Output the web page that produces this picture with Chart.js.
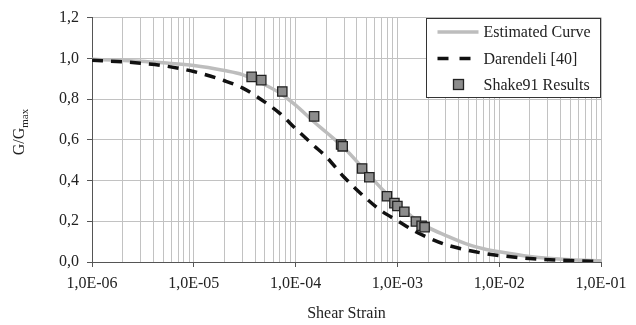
<!DOCTYPE html>
<html lang="en">
<head>
<meta charset="UTF-8"/>
<title>G/Gmax vs Shear Strain</title>
<script src="https://cdn.jsdelivr.net/npm/chart.js"></script>
<style>
  body { margin:0; background:#fff; }
  #wrap { width:636px; height:325px; }
</style>
</head>
<body>
<div id="wrap"><canvas id="chart" width="636" height="325"></canvas></div>
<script>
/* ===== data ===== */
const curveStrain = [1e-6, 2e-6, 3e-6, 5e-6, 1e-5, 2e-5, 3e-5, 5e-5, 7e-5, 1e-4, 1.5e-4, 2e-4, 3e-4,
                     5e-4, 7e-4, 1e-3, 1.5e-3, 2e-3, 3e-3, 5e-3, 7e-3, 1e-2, 2e-2, 5e-2, 1e-1];
const estimatedCurve = [0.995, 0.99, 0.986, 0.978, 0.965, 0.94, 0.92, 0.87, 0.83, 0.77, 0.69, 0.637, 0.56,
                        0.44, 0.36, 0.285, 0.21, 0.17, 0.13, 0.085, 0.065, 0.05, 0.027, 0.011, 0.006];
const darendeli = [0.99, 0.983, 0.976, 0.964, 0.935, 0.89, 0.855, 0.785, 0.73, 0.655, 0.573, 0.517, 0.416,
                   0.31, 0.25, 0.203, 0.15, 0.12, 0.085, 0.057, 0.043, 0.032, 0.017, 0.007, 0.003];

const shakeStrain = [3.7e-5, 4.6e-5, 7.4e-5, 1.52e-4, 2.8e-4, 2.9e-4, 4.5e-4, 5.3e-4, 7.9e-4,
                     9.35e-4, 1.0e-3, 1.17e-3, 1.52e-3, 1.73e-3, 1.85e-3];
const shakeRatio  = [0.909, 0.893, 0.837, 0.715, 0.577, 0.568, 0.459, 0.416, 0.323,
                     0.289, 0.275, 0.247, 0.199, 0.178, 0.171];

const xDecades = [1e-6, 1e-5, 1e-4, 1e-3, 1e-2, 1e-1];
const yTicks   = [0, 0.2, 0.4, 0.6, 0.8, 1.0, 1.2];

const FONT = "'Liberation Serif', 'Times New Roman', serif";
const TXT = '#222';

// x tick positions: 1..9 x 10^n
const xTickValues = [];
xDecades.forEach((d, i) => {
  if (i === xDecades.length - 1) { xTickValues.push(d); return; }
  for (let m = 1; m <= 9; m++) xTickValues.push(m * d);
});
function isDecade(v){
  const l = Math.log10(v);
  return Math.abs(l - Math.round(l)) < 1e-9;
}
function fmtDecade(v){
  const e = Math.round(Math.log10(v));
  const a = Math.abs(e);
  return '1,0E' + (e < 0 ? '-' : '+') + (a < 10 ? '0' : '') + a;
}
const toXY = (xs, ys) => xs.map((x, i) => ({x: x, y: ys[i]}));

/* ===== y title (with subscript) + boxed legend ===== */
const extras = {
  id: 'extras',
  afterDraw(chart){
    const ctx = chart.ctx, ca = chart.chartArea;
    // y title
    ctx.save();
    ctx.translate(20, 132);
    ctx.rotate(-Math.PI/2);
    ctx.fillStyle = TXT;
    ctx.textBaseline = 'middle';
    ctx.font = '16px ' + FONT;
    const w1 = ctx.measureText('G/G').width;
    ctx.font = '11px ' + FONT;
    const w2 = ctx.measureText('max').width;
    const x0 = -(w1 + w2)/2;
    ctx.font = '16px ' + FONT;
    ctx.fillText('G/G', x0, 0);
    ctx.font = '11px ' + FONT;
    ctx.fillText('max', x0 + w1, 5);
    ctx.restore();

    // legend
    const bw = 174, bh = 79;
    const bx = Math.round(ca.right - bw - 1) + 0.5, by = Math.round(ca.top) + 0.5;
    ctx.save();
    ctx.fillStyle = '#fff';
    ctx.fillRect(bx, by, bw, bh);
    ctx.strokeStyle = '#333';
    ctx.lineWidth = 1;
    ctx.strokeRect(bx, by, bw, bh);
    const rows = [13.5, 40, 66];
    ctx.font = '16px ' + FONT;
    ctx.textBaseline = 'middle';
    chart.data.datasets.forEach((ds, i) => {
      const y = by + rows[i];
      if (ds.showLine !== false) {
        ctx.beginPath();
        ctx.strokeStyle = ds.borderColor;
        ctx.lineWidth = ds.borderWidth;
        ctx.setLineDash(ds.borderDash ? [11, 11] : []);
        ctx.moveTo(bx + 11, y);
        ctx.lineTo(bx + 52, y);
        ctx.stroke();
        ctx.setLineDash([]);
      } else {
        ctx.fillStyle = ds.pointBackgroundColor;
        ctx.strokeStyle = ds.pointBorderColor;
        ctx.lineWidth = ds.pointBorderWidth;
        ctx.fillRect(bx + 27, y - 5, 10, 10);
        ctx.strokeRect(bx + 27, y - 5, 10, 10);
      }
      ctx.fillStyle = TXT;
      ctx.fillText(ds.label, bx + 57, y + 1);
    });
    ctx.restore();
  }
};

new Chart(document.getElementById('chart'), {
  type: 'line',
  data: {
    datasets: [
      {
        label: 'Estimated Curve',
        data: toXY(curveStrain, estimatedCurve),
        borderColor: '#bdbdbd',
        borderWidth: 3.5,
        pointRadius: 0,
        cubicInterpolationMode: 'monotone',
        order: 3
      },
      {
        label: 'Darendeli [40]',
        data: toXY(curveStrain, darendeli),
        borderColor: '#111',
        borderWidth: 3.5,
        borderDash: [11, 8],
        pointRadius: 0,
        cubicInterpolationMode: 'monotone',
        order: 2
      },
      {
        label: 'Shake91 Results',
        data: toXY(shakeStrain, shakeRatio),
        showLine: false,
        pointStyle: 'rect',
        pointRadius: 6.6,
        pointBackgroundColor: '#8c8c8c',
        pointBorderColor: '#222',
        pointBorderWidth: 1.3,
        order: 1
      }
    ]
  },
  options: {
    responsive: false,
    animation: false,
    layout: { padding: { top: 16, right: 35, left: 0, bottom: 0 } },
    plugins: { legend: { display: false }, tooltip: { enabled: false } },
    scales: {
      x: {
        type: 'logarithmic',
        min: 1e-6, max: 1e-1,
        afterFit: s => { s.height = 63; },
        afterBuildTicks: s => { s.ticks = xTickValues.map(v => ({value: v})); },
        grid: {
          color: '#c2c2c2',
          lineWidth: 1,
          tickLength: 5,
          tickColor: c => (c.tick && isDecade(c.tick.value)) ? '#555' : 'rgba(0,0,0,0)'
        },
        border: { color: '#555', width: 1 },
        ticks: {
          autoSkip: false, maxRotation: 0, padding: 7,
          color: TXT, font: { family: FONT, size: 16 },
          callback: v => isDecade(v) ? fmtDecade(v) : ''
        },
        title: {
          display: true, text: 'Shear Strain', color: TXT,
          font: { family: FONT, size: 16 }, padding: { top: 0, bottom: 2 }
        }
      },
      y: {
        min: 0, max: 1.2,
        afterFit: s => { s.width = 92; },
        afterBuildTicks: s => { s.ticks = yTicks.map(v => ({value: v})); },
        grid: { color: '#c2c2c2', lineWidth: 1, tickLength: 5, tickColor: '#555' },
        border: { color: '#555', width: 1 },
        ticks: {
          padding: 8, color: TXT, font: { family: FONT, size: 16 },
          callback: v => v.toFixed(1).replace('.', ',')
        }
      }
    }
  },
  plugins: [extras]
});
</script>
</body>
</html>
